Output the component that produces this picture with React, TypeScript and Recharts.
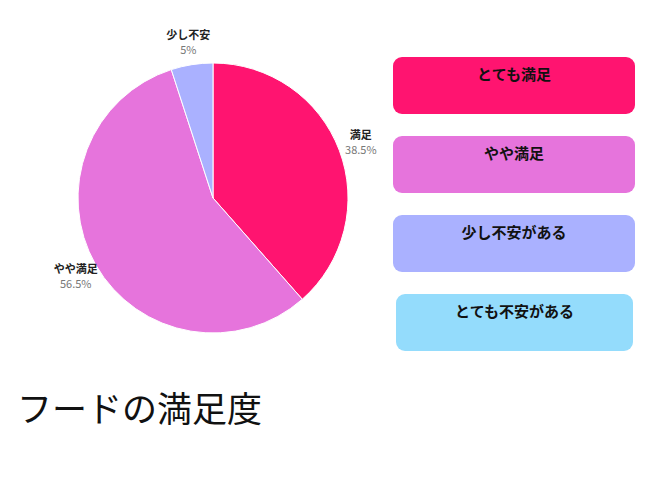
import React from 'react';
import { PieChart, Pie, Cell, Legend } from 'recharts';

document.body.style.margin = '0';

// slices shown in the pie (percent)
const sliceNames = ['満足', 'やや満足', '少し不安'];
const sliceValues = [38.5, 56.5, 5];
const sliceColors = ['#FF1470', '#E674DC', '#AAB1FF'];

// legend boxes on the right
const legendLabels = ['とても満足', 'やや満足', '少し不安がある', 'とても不安がある'];
const legendColors = ['#FF1470', '#E674DC', '#AAB1FF', '#94DCFC'];

const title = 'フードの満足度';

const data = sliceNames.map((name, i) => ({ name, value: sliceValues[i] }));

const RADIAN = Math.PI / 180;
const FONT = '"Noto Sans CJK JP", "Noto Sans", sans-serif';

const renderLabel = (props: any) => {
  const { cx, cy, midAngle, outerRadius, name, value } = props;
  const r = outerRadius + 23;
  const x = cx + r * Math.cos(-midAngle * RADIAN);
  const y = cy + r * Math.sin(-midAngle * RADIAN);
  return (
    <g>
      <text x={x} y={y - 3} textAnchor="middle" fontSize={11} fontWeight={700} fill="#222" fontFamily={FONT}>
        {name}
      </text>
      <text x={x} y={y + 12} textAnchor="middle" fontSize={11} fill="#777" fontFamily={FONT}>
        {`${value}%`}
      </text>
    </g>
  );
};

const BoxLegend = () => (
  <div style={{ display: 'flex', flexDirection: 'column', gap: 22 }}>
    {legendLabels.map((label, i) => {
      const last = i === legendLabels.length - 1;
      return (
        <div
          key={label}
          style={{
            width: last ? 237 : 242,
            marginLeft: last ? 3 : 0,
            height: 57,
            borderRadius: 9,
            background: legendColors[i],
            textAlign: 'center',
            fontFamily: FONT,
            fontWeight: 700,
            fontSize: 15,
            color: '#111',
            paddingTop: 6,
            boxSizing: 'border-box',
          }}
        >
          {label}
        </div>
      );
    })}
  </div>
);

export default function App() {
  return (
    <div style={{ position: 'relative', width: 650, height: 488, background: '#fff' }}>
      <PieChart width={650} height={488} margin={{ top: 0, right: 0, bottom: 0, left: 0 }}>
        <Pie
          data={data}
          dataKey="value"
          nameKey="name"
          cx={213}
          cy={198}
          outerRadius={135}
          startAngle={90}
          endAngle={-270}
          stroke="#fff"
          strokeWidth={1}
          label={renderLabel}
          labelLine={false}
          isAnimationActive={false}
        >
          {data.map((d, i) => (
            <Cell key={d.name} fill={sliceColors[i]} />
          ))}
        </Pie>
        <Legend
          content={() => <BoxLegend />}
          wrapperStyle={{ left: 393, top: 57, width: 242 }}
        />
      </PieChart>
      <div
        style={{
          position: 'absolute',
          left: 17,
          top: 388,
          fontFamily: FONT,
          fontSize: 35,
          lineHeight: 1.1,
          color: '#111',
        }}
      >
        {title}
      </div>
    </div>
  );
}
